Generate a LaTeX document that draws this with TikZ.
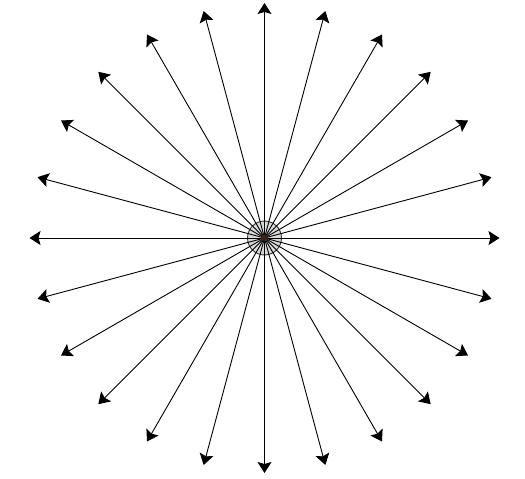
\documentclass[tikz,border=0pt]{standalone}
\usetikzlibrary{arrows.meta,calc}
\definecolor{dotbrown}{HTML}{3A2412}
\begin{document}
\begin{tikzpicture}[x=1pt,y=-1pt,
  ray/.style={draw=black,line width=0.9pt,-{Stealth[length=11pt,width=14pt,inset=2pt]}},
  hub/.style={circle,draw=black!80,fill=black!15,line width=0.9pt,minimum size=34pt,inner sep=0pt},
  core/.style={circle,fill=dotbrown,minimum size=7pt,inner sep=0pt}]
\useasboundingbox (0,0) rectangle (525,479);
\node[hub] (hub) at (264.5,238) {};
\coordinate (c) at (264.5,238);
\foreach \a in {0,15,...,345}{
  \coordinate (e\a) at ($(c)+(\a:235)$);
}
\foreach \a in {0,15,...,345}{
  \draw[ray] (c) -- (e\a);
}
\node[core] (core) at (c) {};
\end{tikzpicture}
\end{document}
